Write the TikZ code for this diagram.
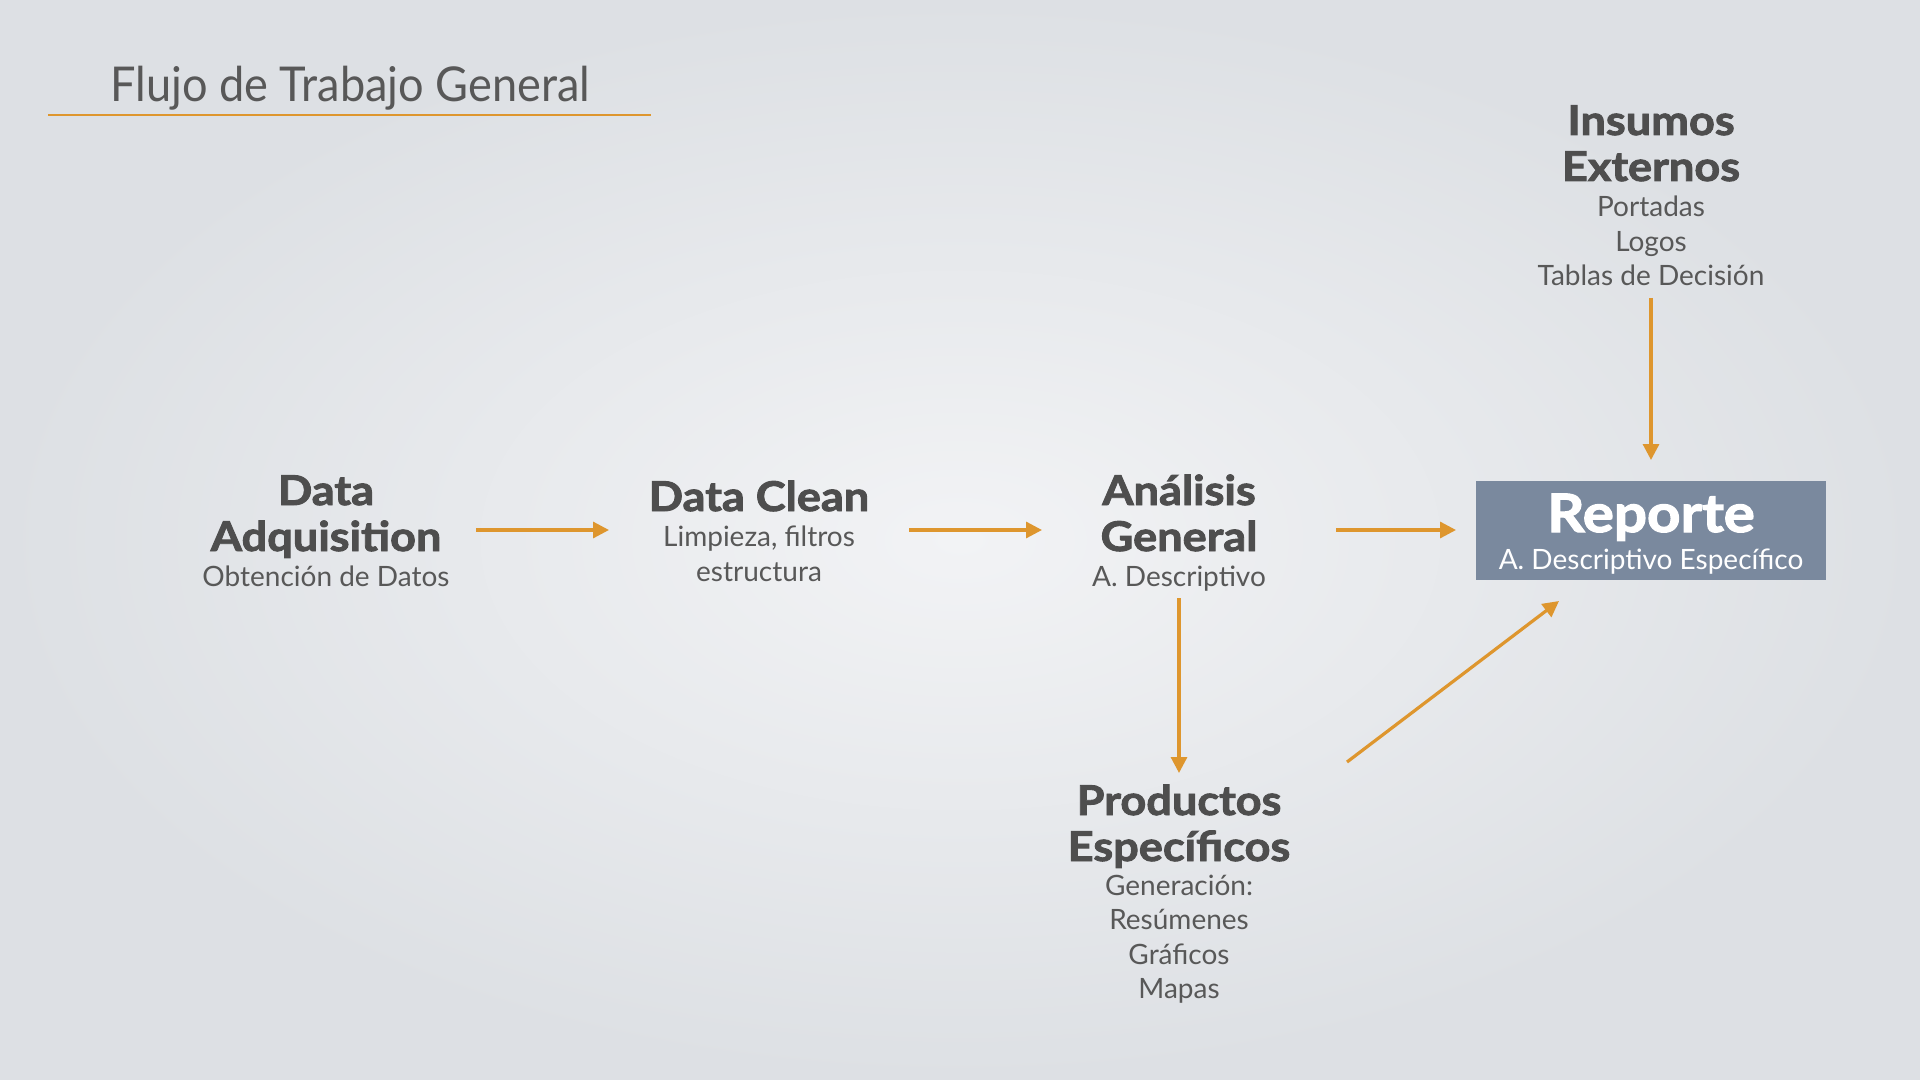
\documentclass[tikz,border=0pt]{standalone}
\usepackage{fontspec}
\setmainfont{Lato}
\newfontfamily\heavyfont{Lato}[BoldFeatures={FakeBold=2.2,FakeStretch=1.1}]
\newfontfamily\titlefont{Lato}[FakeStretch=0.94]
\usetikzlibrary{arrows.meta}
\definecolor{txt}{HTML}{4E4E4E}
\definecolor{subtxt}{HTML}{585858}
\definecolor{accent}{HTML}{DE962E}
\definecolor{boxc}{HTML}{7A899E}
\definecolor{bgin}{HTML}{F2F3F5}
\definecolor{bgout}{HTML}{DDE0E4}
\tikzset{
  hd/.style={anchor=base, inner sep=0pt, text=txt, font=\fontsize{20.5}{24}\selectfont\heavyfont\bfseries},
  sb/.style={anchor=base, inner sep=0pt, text=subtxt, font=\fontsize{14}{17}\selectfont},
  conn/.style={draw=accent, line width=1.6pt, -{Triangle[length=8pt,width=8pt]}},
  repbox/.style={rectangle, fill=boxc, inner sep=0pt, minimum width=175pt, minimum height=49.5pt},
}
\begin{document}
\begin{tikzpicture}[x=0.5pt,y=-0.5pt]
\shade[inner color=bgin, outer color=bgout] (0,0) rectangle (1920,1080);
\useasboundingbox (0,0) rectangle (1920,1080);

% title
\node[anchor=base west, inner sep=0pt, text=subtxt, font=\fontsize{24}{28}\selectfont\titlefont] (title) at (110,102) {Flujo de Trabajo General};
\draw[accent, line width=1.2pt] (48,115) -- (651,115);

% Data Adquisition
\node[hd] (da1) at (326,505) {Data};
\node[hd] (da2) at (326,551) {Adquisition};
\node[sb] (da3) at (326,586) {Obtención de Datos};

% Data Clean
\node[hd] (dc1) at (759,511) {Data Clean};
\node[sb] (dc2) at (759,546) {Limpieza, filtros};
\node[sb] (dc3) at (759,581) {estructura};

% Analisis General
\node[hd] (ag1) at (1179,505) {Análisis};
\node[hd] (ag2) at (1179,551) {General};
\node[sb] (ag3) at (1179,586) {A. Descriptivo};

% Insumos Externos
\node[hd] (ie1) at (1651,135) {Insumos};
\node[hd] (ie2) at (1651,181) {Externos};
\node[sb] (ie3) at (1651,217) {Portadas};
\node[sb] (ie4) at (1651,251.5) {Logos};
\node[sb] (ie5) at (1651,286) {Tablas de Decisión};

% Productos Especificos
\node[hd] (pe1) at (1179,815) {Productos};
\node[hd] (pe2) at (1179,861) {Específicos};
\node[sb] (pe3) at (1179,895) {Generación:};
\node[sb] (pe4) at (1179,929.5) {Resúmenes};
\node[sb] (pe5) at (1179,964) {Gráficos};
\node[sb] (pe6) at (1179,998.5) {Mapas};

% Reporte
\node[repbox] (rep) at (1651,530.5) {};
\node[hd, text=white, font=\fontsize{26.5}{30}\selectfont\heavyfont\bfseries] (rep1) at (1651,532) {Reporte};
\node[sb, text=white] (rep2) at (1651,569.5) {A. Descriptivo Específico};

% connector ends
\coordinate (a1s) at (476,530);  \coordinate (a1e) at (609,530);
\coordinate (a2s) at (909,530);  \coordinate (a2e) at (1042,530);
\coordinate (a3s) at (1336,530); \coordinate (a3e) at (1456,530);
\coordinate (a4s) at (1651,298); \coordinate (a4e) at (1651,460);
\coordinate (a5s) at (1179,598); \coordinate (a5e) at (1179,773);
\coordinate (a6s) at (1347,762); \coordinate (a6e) at (1559,601);

\draw[conn] (a1s) -- (a1e);
\draw[conn] (a2s) -- (a2e);
\draw[conn] (a3s) -- (a3e);
\draw[conn] (a4s) -- (a4e);
\draw[conn] (a5s) -- (a5e);
\draw[conn] (a6s) -- (a6e);
\end{tikzpicture}
\end{document}
